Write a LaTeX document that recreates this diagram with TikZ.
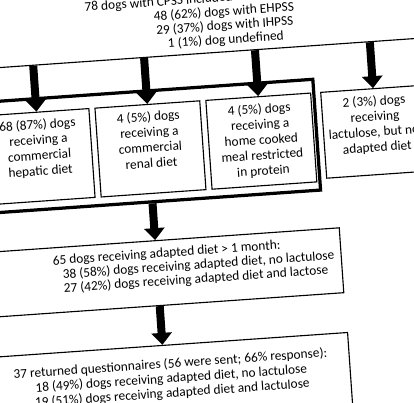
\documentclass[tikz,border=0pt]{standalone}
\usepackage{fontspec}
\setmainfont{Carlito}
\usetikzlibrary{positioning,calc,arrows.meta}

% text of the small diet boxes, set from the top
\newcommand\dietlines[2]{\parbox[c][#1][t]{2.625cm}{\centering\rule{0pt}{0.42cm}#2}}

\begin{document}
\begin{tikzpicture}[
  x=0.025cm, y=0.025cm,
  font=\fontsize{9.5}{11}\selectfont,
  dietbox/.style={draw, line width=0.8pt, inner sep=0pt, minimum width=2.625cm},
  groupbox/.style={draw, line width=2.3pt, inner sep=0pt},
  infobox/.style={draw, line width=0.8pt, inner sep=0pt},
  bigarrow/.style={line width=0.2cm, -{Triangle[width=0.5cm,length=0.3cm]}},
]
\useasboundingbox (0,0) rectangle (414,402);
\fill[white] (0,0) rectangle (414,402);
\clip (0,0) rectangle (414,402);
\begin{scope}[rotate around={4:(207,201)}, transform shape]
% Cohort
\node[infobox, anchor=south] (cohort) at (237,348)
  {\parbox[c][2.5cm][b]{13.85cm}{\centering\fontsize{9.5}{10}\selectfont
   78 dogs with CPSS included in the study population\\
   48 (62\%) dogs with EHPSS\\
   29 (37\%) dogs with IHPSS\\
   1 (1\%) dog undefined\rule[-0.2cm]{0pt}{0.2cm}}};

% Adapted diets (thick frame)
\node[groupbox, minimum width=8.425cm, minimum height=2.775cm]
  (dietgroup) at (152.5,259.5) {};
\node[dietbox, anchor=north west] (hepatic) at (-10,302)
  {\dietlines{2.225cm}{68 (87\%) dogs\\receiving a\\commercial\\hepatic diet}};
\node[dietbox, right=0.125cm of hepatic] (renal)
  {\dietlines{2.225cm}{4 (5\%) dogs\\receiving a\\commercial\\renal diet}};
\node[dietbox, right=0.125cm of renal] (homecooked)
  {\dietlines{2.225cm}{4 (5\%) dogs\\receiving a\\home cooked\\meal restricted\\in protein}};
% Lactulose only
\node[dietbox, right=0.225cm of homecooked.north east, anchor=north west] (lactulose)
  {\dietlines{2.15cm}{2 (3\%) dogs\\receiving\\lactulose, but not\\adapted diet}};

% > 1 month
\node[infobox] (adapted) at (152.5,132.5)
  {\parbox[c][1.625cm][t]{9.225cm}{\raggedright\fontsize{9.5}{10}\selectfont
   \rule{0pt}{0.43cm}\hspace*{2.025cm}65 dogs receiving adapted diet > 1 month:\\
   \hspace*{2.25cm}38 (58\%) dogs receiving adapted diet, no lactulose\\
   \hspace*{2.25cm}27 (42\%) dogs receiving adapted diet and lactose}};

% Questionnaires
\node[infobox] (questionnaire) at (159,10)
  {\parbox[c][2.5cm][t]{8.95cm}{\centering\fontsize{9.5}{10.4}\selectfont
   \rule{0pt}{0.575cm}37 returned questionnaires (56 were sent; 66\% response):\\
   18 (49\%) dogs receiving adapted diet, no lactulose\\
   19 (51\%) dogs receiving adapted diet and lactulose}};

% Arrows
\draw[bigarrow] ($(cohort.south west)!(hepatic.north)!(cohort.south east)$) -- (hepatic.north);
\draw[bigarrow] ($(cohort.south west)!(renal.north)!(cohort.south east)$) -- (renal.north);
\draw[bigarrow] ($(cohort.south west)!(homecooked.north)!(cohort.south east)$) -- (homecooked.north);
\draw[bigarrow] ($(cohort.south west)!(lactulose.north)!(cohort.south east)$) -- (lactulose.north);
\draw[bigarrow] (dietgroup.south) -- (adapted.north);
\draw[bigarrow] (adapted.south) -- ($(questionnaire.north west)!(adapted.south)!(questionnaire.north east)$);
\end{scope}
\end{tikzpicture}
\end{document}
